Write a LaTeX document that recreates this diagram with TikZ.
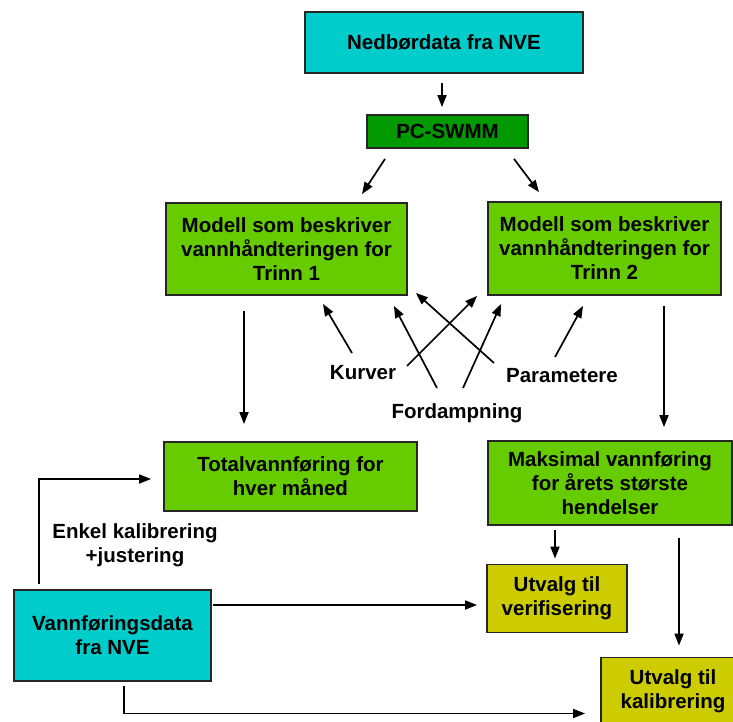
\documentclass[tikz,border=0pt]{standalone}
\usepackage{fontspec}
\setmainfont{Liberation Sans}
\usetikzlibrary{arrows.meta,calc}
\definecolor{cyanbox}{HTML}{00CCCC}
\definecolor{darkgreenbox}{HTML}{009900}
\definecolor{greenbox}{HTML}{66CC00}
\definecolor{yellowbox}{HTML}{CCCC00}
\begin{document}
\begin{tikzpicture}[x=1pt,y=-1pt,
  box/.style={draw=black!85,line width=1.8pt,inner sep=0pt,align=center,
    font=\bfseries\fontsize{20.5}{24}\selectfont},
  lbl/.style={inner sep=0pt,align=center,font=\bfseries\fontsize{20.5}{24}\selectfont},
  arr/.style={line width=1.7pt,-{Triangle[length=12pt,width=9pt]}}]
\useasboundingbox (0,0) rectangle (733,722);
\clip (0,0) rectangle (733,722);
% boxes
\node[box,fill=cyanbox,minimum width=278pt,minimum height=61pt] (ned) at (444,42.5) {Nedbørdata fra NVE};
\node[box,fill=darkgreenbox,minimum width=161pt,minimum height=33pt] (pc) at (447.5,131.5) {PC-SWMM};
\node[box,fill=greenbox,minimum width=241pt,minimum height=92pt] (m1) at (286.5,249) {Modell som beskriver\\vannhåndteringen for\\Trinn 1};
\node[box,fill=greenbox,minimum width=233pt,minimum height=93pt] (m2) at (604.5,248.5) {Modell som beskriver\\vannhåndteringen for\\Trinn 2};
\node[box,fill=greenbox,minimum width=253pt,minimum height=69pt] (tot) at (290.5,476.5) {Totalvannføring for\\hver måned};
\node[box,fill=greenbox,minimum width=244pt,minimum height=84pt] (maks) at (610,483) {Maksimal vannføring\\for årets største\\hendelser};
\node[box,fill=yellowbox,minimum width=140pt,minimum height=68pt] (verif) at (557,598.5) {Utvalg til\\verifisering};
\node[box,fill=yellowbox,minimum width=144pt,minimum height=68pt] (kalib) at (673,691.5) {Utvalg til\\kalibrering};
\node[box,fill=cyanbox,minimum width=197pt,minimum height=91pt] (vann) at (112.5,635.5) {Vannføringsdata\\fra NVE};
% labels
\node[lbl] (kurver) at (363,373) {Kurver};
\node[lbl] (param) at (562,376) {Parametere};
\node[lbl] (ford) at (457,413) {Fordampning};
\node[lbl] (enkel) at (135,545) {Enkel kalibrering\\+justering};
% connectors
\draw[arr] ($(ned.south)+(-2,9)$) -- ($(pc.north)+(-5.5,-7)$);
\draw[arr] ($(pc.south)+(-62.5,10)$) -- ($(m1.north)+(75.5,-8)$);
\draw[arr] ($(pc.south)+(66.5,10)$) -- ($(m2.north)+(-65.5,-9)$);
\draw[arr] ($(m1.south)+(-42.5,15)$) -- ($(tot.north)+(-46.5,-17)$);
\draw[arr] ($(m2.south)+(59.5,10)$) -- ($(maks.north)+(54,-13)$);
\draw[arr] ($(maks.south)+(-55,4)$) -- ($(verif.north)+(-2,-5)$);
\draw[arr] ($(maks.south)+(69,12)$) -- ($(kalib.north)+(6,-11)$);
\draw[arr] ($(vann.north)+(-73.5,-5)$) |- ($(tot.west)+(-12,2.5)$);
\draw[arr] ($(vann.east)+(1,-30.5)$) -- ($(verif.west)+(-9,6.5)$);
\draw[arr] ($(vann.south)+(11.5,4)$) |- ($(kalib.west)+(-15,22)$);
% label arrows
\draw[arr] ($(kurver)+(-11,-20)$) -- ($(m1.south)+(36.5,8)$);
\draw[arr] ($(kurver)+(44,-7)$) -- ($(m2.south west)+(-10,0)$);
\draw[arr] ($(ford)+(-20,-25)$) -- ($(m1.south east)+(-14,10)$);
\draw[arr] ($(ford)+(6,-25)$) -- ($(m2.south west)+(14,8)$);
\draw[arr] ($(param)+(-68,-13)$) -- ($(m1.south east)+(8,-3)$);
\draw[arr] ($(param)+(-7,-19)$) -- ($(m2.south)+(-21.5,10)$);
\end{tikzpicture}
\end{document}
